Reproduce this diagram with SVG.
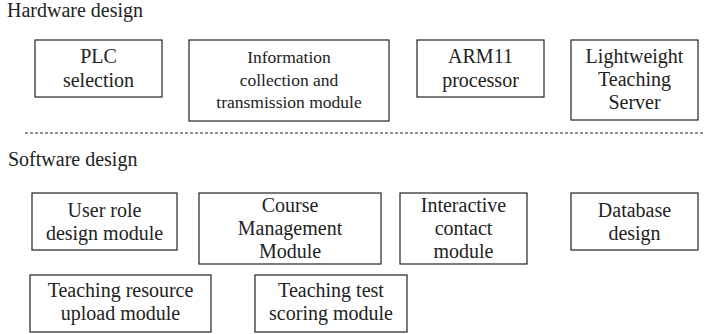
<svg xmlns="http://www.w3.org/2000/svg" width="705" height="334" viewBox="0 0 705 334">
<style>
.t{font-family:'Liberation Serif',serif;font-size:20px;fill:#222;}
.s{font-family:'Liberation Serif',serif;font-size:17.5px;fill:#222;}
.box{fill:#fff;stroke:#222;stroke-width:1.2;}
.dash{stroke:#222;stroke-width:1.2;stroke-dasharray:3,2;fill:none;}
</style>
<rect x="0" y="0" width="705" height="334" fill="#fff"/>
<text class="t" font-family="Liberation Serif" font-size="20" x="7" y="17">Hardware design</text>
<text class="t" font-family="Liberation Serif" font-size="20" x="8" y="166">Software design</text>
<g id="connectors"><line class="dash" x1="25" y1="133" x2="703" y2="133"/></g>
<g id="plc" text-anchor="middle"><rect class="box" x="35" y="40" width="127" height="57"/><text class="t" font-family="Liberation Serif" font-size="20" x="98.5" y="63">PLC</text><text class="t" font-family="Liberation Serif" font-size="20" x="98.5" y="87">selection</text></g>
<g id="info" text-anchor="middle"><rect class="box" x="189" y="40" width="200" height="81"/><text class="s" font-family="Liberation Serif" font-size="17.5" x="289" y="63">Information</text><text class="s" font-family="Liberation Serif" font-size="17.5" x="289" y="86">collection and</text><text class="s" font-family="Liberation Serif" font-size="17.5" x="289" y="108">transmission module</text></g>
<g id="arm" text-anchor="middle"><rect class="box" x="417" y="40" width="127" height="57"/><text class="t" font-family="Liberation Serif" font-size="20" x="480.5" y="63">ARM11</text><text class="t" font-family="Liberation Serif" font-size="20" x="480.5" y="87">processor</text></g>
<g id="server" text-anchor="middle"><rect class="box" x="571" y="40" width="127" height="80"/><text class="t" font-family="Liberation Serif" font-size="20" x="634.5" y="63">Lightweight</text><text class="t" font-family="Liberation Serif" font-size="20" x="634.5" y="86">Teaching</text><text class="t" font-family="Liberation Serif" font-size="20" x="634.5" y="109">Server</text></g>
<g id="userrole" text-anchor="middle"><rect class="box" x="32" y="193" width="145" height="57"/><text class="t" font-family="Liberation Serif" font-size="20" x="104.5" y="217">User role</text><text class="t" font-family="Liberation Serif" font-size="20" x="104.5" y="240">design module</text></g>
<g id="course" text-anchor="middle"><rect class="box" x="199" y="193" width="182" height="71"/><text class="t" font-family="Liberation Serif" font-size="20" x="290" y="212">Course</text><text class="t" font-family="Liberation Serif" font-size="20" x="290" y="235">Management</text><text class="t" font-family="Liberation Serif" font-size="20" x="290" y="258">Module</text></g>
<g id="interactive" text-anchor="middle"><rect class="box" x="400" y="193" width="127" height="71"/><text class="t" font-family="Liberation Serif" font-size="20" x="463.5" y="212">Interactive</text><text class="t" font-family="Liberation Serif" font-size="20" x="463.5" y="235">contact</text><text class="t" font-family="Liberation Serif" font-size="20" x="463.5" y="258">module</text></g>
<g id="database" text-anchor="middle"><rect class="box" x="571" y="193" width="127" height="57"/><text class="t" font-family="Liberation Serif" font-size="20" x="634.5" y="217">Database</text><text class="t" font-family="Liberation Serif" font-size="20" x="634.5" y="240">design</text></g>
<g id="resource" text-anchor="middle"><rect class="box" x="30" y="275" width="181" height="57"/><text class="t" font-family="Liberation Serif" font-size="20" x="120.5" y="297">Teaching resource</text><text class="t" font-family="Liberation Serif" font-size="20" x="120.5" y="320">upload module</text></g>
<g id="test" text-anchor="middle"><rect class="box" x="255" y="275" width="152" height="57"/><text class="t" font-family="Liberation Serif" font-size="20" x="331" y="297">Teaching test</text><text class="t" font-family="Liberation Serif" font-size="20" x="331" y="320">scoring module</text></g>
</svg>
